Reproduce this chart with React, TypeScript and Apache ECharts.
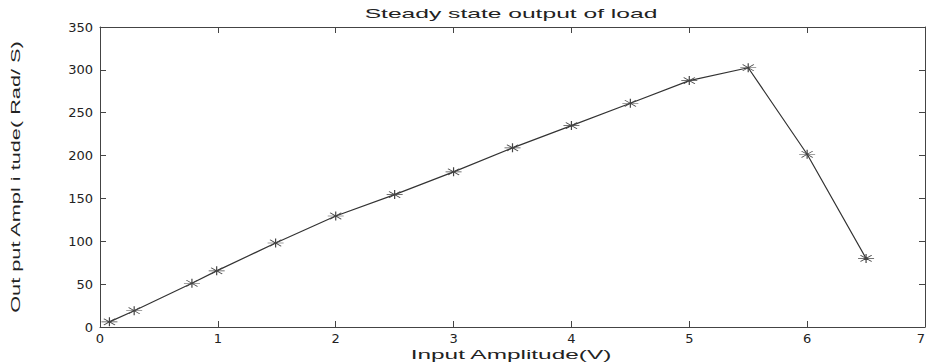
import React, { useEffect, useRef } from "react";
import * as echarts from "echarts";

const inputAmplitude = [0.08, 0.29, 0.78, 0.99, 1.49, 2.0, 2.5, 3.0, 3.5, 4.0, 4.5, 5.0, 5.5, 6.0, 6.5];
const outputAmplitude = [6, 19, 51, 65.5, 98, 129.5, 154.5, 181, 209, 235, 261, 287.5, 302.5, 201.5, 80];
const titleText = "Steady state output of load";
const xName = "Input Amplitude(V)";
const yName = "Out put Ampl i tude( Rad/ S)";

const FONT = "Liberation Sans";

function measure(text: string, size: number): number {
  const c = document.createElement("canvas");
  const ctx = c.getContext("2d");
  if (!ctx) return text.length * size * 0.55;
  ctx.font = `${size}px "${FONT}"`;
  return ctx.measureText(text).width;
}

export default function App() {
  const ref = useRef<HTMLDivElement>(null);
  useEffect(() => {
    if (!ref.current) return;
    const chart = echarts.init(ref.current, undefined, { renderer: "svg" });
    const left = 100, right = 2, top = 27, bottom = 35;
    const fs = 13;
    const titleW = 293, xNameW = 202, yNameW = 273;
    const axisColor = "#444";
    const lbl = { color: "#222", fontFamily: "DejaVu Sans", fontSize: 13 };
    const data = inputAmplitude.map((x, i) => [x, outputAmplitude[i]]);
    chart.setOption({
      animation: false,
      backgroundColor: "#fff",
      grid: { left, right, top, bottom, containLabel: false, outerBoundsMode: "none" },
      xAxis: [
        {
          type: "value", min: 0, max: 7, interval: 1, position: "bottom",
          axisLine: { show: true, onZero: false, lineStyle: { color: axisColor, width: 1 } },
          axisTick: { show: true, inside: true, length: 6, lineStyle: { color: axisColor } },
          axisLabel: { ...lbl, margin: 5, showMaxLabel: true, showMinLabel: true, alignMaxLabel: "right" },
          splitLine: { show: false },
        },
        {
          type: "value", min: 0, max: 7, interval: 1, position: "top",
          axisLine: { show: true, onZero: false, lineStyle: { color: axisColor, width: 1 } },
          axisTick: { show: true, inside: true, length: 6, lineStyle: { color: axisColor } },
          axisLabel: { show: false },
          splitLine: { show: false },
        },
      ],
      yAxis: [
        {
          type: "value", min: 0, max: 350, interval: 50, position: "left",
          axisLine: { show: true, onZero: false, lineStyle: { color: axisColor, width: 1 } },
          axisTick: { show: true, inside: true, length: 6, lineStyle: { color: axisColor } },
          axisLabel: { ...lbl, margin: 7 },
          splitLine: { show: false },
        },
        {
          type: "value", min: 0, max: 350, interval: 50, position: "right",
          axisLine: { show: true, onZero: false, lineStyle: { color: axisColor, width: 1 } },
          axisTick: { show: true, inside: true, length: 6, lineStyle: { color: axisColor } },
          axisLabel: { show: false },
          splitLine: { show: false },
        },
      ],
      series: [
        {
          type: "line",
          data,
          xAxisIndex: 0,
          yAxisIndex: 0,
          symbol: "path://M0,5L10,5M5,0L5,10M1.5,1.5L8.5,8.5M8.5,1.5L1.5,8.5",
          symbolSize: [16, 9],
          showAllSymbol: true,
          lineStyle: { color: "#333", width: 1.2 },
          itemStyle: { color: "transparent", borderColor: "#444", borderWidth: 0.9 },
          emphasis: { disabled: true },
        },
      ],
      graphic: [
        {
          type: "text", x: 511, y: 13, scaleX: titleW / measure(titleText, fs),
          style: { text: titleText, fontFamily: FONT, fontSize: fs, fill: "#222", align: "center", verticalAlign: "middle" },
        },
        {
          type: "text", x: 511, y: 354, scaleX: xNameW / measure(xName, fs),
          style: { text: xName, fontFamily: FONT, fontSize: fs, fill: "#222", align: "center", verticalAlign: "middle" },
        },
        {
          type: "text", x: 16, y: 177, rotation: Math.PI / 2, scaleX: yNameW / measure(yName, fs),
          style: { text: yName, fontFamily: FONT, fontSize: fs, fill: "#222", align: "center", verticalAlign: "middle" },
        },
      ],
    });
    return () => chart.dispose();
  }, []);
  return <div ref={ref} style={{ width: 927, height: 362, position: "absolute", left: 0, top: 0 }} />;
}
